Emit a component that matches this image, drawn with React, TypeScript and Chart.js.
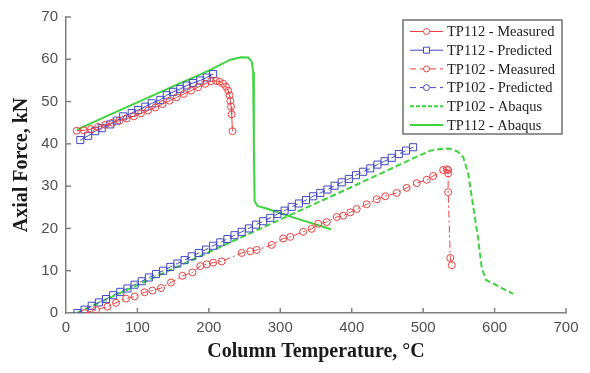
import React, { useEffect, useRef } from "react";
import { Chart, registerables } from "chart.js";

Chart.register(...registerables);

// ---- tick values ----
const xTickValues = [0, 100, 200, 300, 400, 500, 600, 700];
const yTickValues = [0, 10, 20, 30, 40, 50, 60, 70];

// ---- TP112 - Measured ----
const tp112MeasT = [15, 25, 35, 45, 55, 65, 75, 85, 95, 105, 115, 125, 135, 145, 155, 165, 175, 185, 195, 203, 210, 215, 220, 224, 227, 229, 230, 231, 232, 233];
const tp112MeasF = [43.1, 43.2, 43.5, 44.0, 44.5, 45.0, 45.5, 46.0, 46.5, 47.2, 47.9, 48.6, 49.4, 50.2, 51.0, 51.8, 52.6, 53.4, 54.2, 54.8, 54.9, 54.7, 54.2, 53.5, 52.6, 51.5, 50.2, 48.8, 47.0, 43.0];

// ---- TP112 - Predicted ----
const tp112PredT = [20, 31, 41, 50, 62, 71, 80, 92, 101, 111, 120, 132, 141, 150, 160, 169, 178, 188, 197, 206];
const tp112PredF = [40.9, 41.9, 43.0, 43.7, 44.6, 45.5, 46.5, 47.3, 48.0, 48.8, 49.6, 50.4, 51.5, 52.3, 53.0, 53.8, 54.4, 55.0, 55.7, 56.5];

// ---- TP102 - Measured ----
const tp102MeasT = [26, 42, 58, 70, 84, 96, 110, 121, 133, 147, 163, 177, 188, 197, 206, 218, 246, 258, 267, 288, 304, 314, 332, 344, 353, 365, 379, 388, 398, 407, 421, 435, 447, 463, 477, 491, 505, 514, 528, 533, 535, 535, 535, 538, 540];
const tp102MeasF = [0, 0.7, 1.5, 2.4, 3.4, 3.9, 4.9, 5.3, 5.9, 7.2, 8.8, 9.6, 11.1, 11.5, 11.9, 12.2, 14.2, 14.6, 14.9, 16.1, 17.6, 18.0, 19.2, 19.9, 21.1, 21.5, 22.7, 23.0, 23.8, 24.6, 25.7, 26.9, 27.6, 28.4, 29.6, 30.7, 31.5, 32.4, 33.8, 34.0, 33.8, 33.0, 28.6, 13.0, 11.3];

// ---- TP102 - Predicted ----
const tp102PredT = [16, 26, 36, 46, 56, 66, 76, 86, 96, 106, 116, 126, 136, 146, 156, 166, 176, 186, 196, 206, 216, 226, 236, 246, 256, 266, 276, 286, 296, 306, 316, 326, 336, 346, 356, 366, 376, 386, 396, 406, 416, 426, 436, 446, 456, 466, 476, 486];
const tp102PredF = [0, 0.8, 1.7, 2.5, 3.3, 4.2, 5.0, 5.8, 6.7, 7.5, 8.4, 9.2, 10.0, 10.9, 11.7, 12.5, 13.4, 14.2, 15.0, 15.9, 16.7, 17.5, 18.4, 19.2, 20.0, 20.9, 21.7, 22.5, 23.4, 24.2, 25.1, 25.9, 26.7, 27.6, 28.4, 29.2, 30.1, 30.9, 31.7, 32.6, 33.4, 34.2, 35.1, 35.9, 36.7, 37.6, 38.4, 39.2];

// ---- TP102 - Abaqus ----
const tp102AbaT = [15, 100, 200, 300, 400, 480, 510, 525, 537, 548, 556, 563, 570, 577, 582, 588, 600, 626];
const tp102AbaF = [0, 6.6, 14.4, 22.1, 29.8, 36.1, 38.4, 38.8, 38.9, 38.2, 36.9, 33.0, 25.3, 17.6, 10.7, 7.8, 6.8, 4.5];

// ---- TP112 - Abaqus ----
const tp112AbaT = [15, 60, 100, 150, 200, 230, 245, 255, 260, 262, 263, 264, 268, 283, 320, 371];
const tp112AbaF = [43.3, 46.8, 49.8, 53.6, 57.3, 59.9, 60.5, 60.4, 59.5, 57.0, 40.0, 26.5, 25.3, 24.6, 22.5, 19.8];

const seriesLabels = [
  "TP112 - Measured",
  "TP112 - Predicted",
  "TP102 - Measured",
  "TP102 - Predicted",
  "TP102 - Abaqus",
  "TP112 - Abaqus",
];

const RED = "#ee4040";
const BLUE = "#4048c4";
const GREEN = "#3ed43e";

const pts = (xs: number[], ys: number[]) => xs.map((x, i) => ({ x, y: ys[i] }));

type LegendItem = { label: string; color: string; dash: number[]; lw: number; marker: string | null };
const legendItems: LegendItem[] = [
  { label: seriesLabels[0], color: RED, dash: [], lw: 1, marker: "circle" },
  { label: seriesLabels[1], color: BLUE, dash: [], lw: 1, marker: "rect" },
  { label: seriesLabels[2], color: RED, dash: [6, 4], lw: 1, marker: "circle" },
  { label: seriesLabels[3], color: BLUE, dash: [6, 4], lw: 1, marker: "circle" },
  { label: seriesLabels[4], color: GREEN, dash: [4, 2], lw: 2, marker: null },
  { label: seriesLabels[5], color: GREEN, dash: [], lw: 2, marker: null },
];

const legendPlugin = {
  id: "boxLegend",
  afterDraw(chart: any) {
    const ctx = chart.ctx;
    ctx.save();
    const bx = 403, by = 20, bw = 159, bh = 114;
    ctx.fillStyle = "#ffffff";
    ctx.fillRect(bx, by, bw, bh);
    ctx.strokeStyle = "#707070";
    ctx.lineWidth = 1.5;
    ctx.strokeRect(bx, by, bw, bh);
    legendItems.forEach((it, i) => {
      const y = by + 11.5 + i * 18.7;
      ctx.setLineDash(it.dash);
      ctx.strokeStyle = it.color;
      ctx.lineWidth = it.lw;
      ctx.beginPath();
      ctx.moveTo(bx + 7, y);
      ctx.lineTo(bx + 40, y);
      ctx.stroke();
      ctx.setLineDash([]);
      if (it.marker) {
        const cx = bx + 23.5;
        ctx.fillStyle = "#ffffff";
        ctx.lineWidth = 1;
        ctx.beginPath();
        if (it.marker === "circle") ctx.arc(cx, y, 3, 0, Math.PI * 2);
        else ctx.rect(cx - 3, y - 3, 6, 6);
        ctx.fill();
        ctx.stroke();
      }
      ctx.fillStyle = "#222222";
      ctx.font = '14.5px "Liberation Serif"';
      ctx.textBaseline = "middle";
      ctx.textAlign = "left";
      ctx.fillText(it.label, bx + 44, y + 1);
    });
    ctx.restore();
  },
};

const inwardTicks = {
  id: "inwardTicks",
  afterDatasetsDraw(chart: any) {
    const { ctx, chartArea } = chart;
    const xs = chart.scales.x;
    const ys = chart.scales.y;
    ctx.save();
    ctx.strokeStyle = "#808080";
    ctx.lineWidth = 1.5;
    xTickValues.forEach((v) => {
      if (v === 0) return;
      const px = xs.getPixelForValue(v);
      ctx.beginPath();
      ctx.moveTo(px, chartArea.bottom);
      ctx.lineTo(px, chartArea.bottom - 5);
      ctx.stroke();
    });
    yTickValues.forEach((v) => {
      if (v === 0) return;
      const py = ys.getPixelForValue(v);
      ctx.beginPath();
      ctx.moveTo(chartArea.left, py);
      ctx.lineTo(chartArea.left + 5, py);
      ctx.stroke();
    });
    ctx.restore();
  },
};

export default function App() {
  const ref = useRef<HTMLCanvasElement | null>(null);
  useEffect(() => {
    if (!ref.current) return;
    const common = { showLine: true, pointBorderWidth: 1, pointBackgroundColor: "rgba(255,255,255,0)" };
    const chart = new Chart(ref.current, {
      type: "scatter",
      data: {
        datasets: [
          { ...common, label: seriesLabels[0], data: pts(tp112MeasT, tp112MeasF), borderColor: RED, pointBorderColor: RED, borderWidth: 1, pointStyle: "circle", pointRadius: 3.5 },
          { ...common, label: seriesLabels[1], data: pts(tp112PredT, tp112PredF), borderColor: BLUE, pointBorderColor: BLUE, borderWidth: 1, pointStyle: "rect", pointRadius: 5 },
          { ...common, label: seriesLabels[2], data: pts(tp102MeasT, tp102MeasF), borderColor: RED, pointBorderColor: RED, borderWidth: 1, borderDash: [7, 3, 2, 3], pointStyle: "circle", pointRadius: 3.5 },
          { ...common, label: seriesLabels[3], data: pts(tp102PredT, tp102PredF), borderColor: BLUE, pointBorderColor: BLUE, borderWidth: 1, borderDash: [6, 4], pointStyle: "rect", pointRadius: 5 },
          { ...common, label: seriesLabels[4], data: pts(tp102AbaT, tp102AbaF), borderColor: GREEN, borderWidth: 2, borderDash: [6, 3], pointRadius: 0 },
          { ...common, label: seriesLabels[5], data: pts(tp112AbaT, tp112AbaF), borderColor: GREEN, borderWidth: 2, pointRadius: 0 },
        ],
      },
      options: {
        animation: false,
        responsive: false,
        devicePixelRatio: 1,
        layout: { padding: { left: 0, top: 10, right: 24, bottom: 0 } },
        plugins: { legend: { display: false }, tooltip: { enabled: false } },
        scales: {
          x: {
            type: "linear",
            min: 0,
            max: 700,
            afterFit: (s: any) => { s.height = 60; },
            afterBuildTicks: (s: any) => { s.ticks = xTickValues.map((v) => ({ value: v })); },
            grid: { display: false, drawTicks: false },
            border: { display: true, color: "#808080", width: 1.5 },
            ticks: { padding: 6, color: "#505050", font: { family: '"Liberation Sans"', size: 15 }, maxRotation: 0 },
            title: { display: true, text: "Column Temperature, °C", color: "#1a1a1a", font: { family: '"Liberation Serif"', size: 20, weight: "bold" }, padding: { top: 0, bottom: 9 } },
          },
          y: {
            type: "linear",
            min: 0,
            max: 70,
            afterFit: (s: any) => { s.width = 66; },
            afterBuildTicks: (s: any) => { s.ticks = yTickValues.map((v) => ({ value: v })); },
            grid: { display: false, drawTicks: false },
            border: { display: true, color: "#808080", width: 1.5 },
            ticks: { padding: 8, color: "#505050", font: { family: '"Liberation Sans"', size: 15 } },
            title: { display: true, text: "Axial Force, kN", color: "#1a1a1a", font: { family: '"Liberation Serif"', size: 20, weight: "bold" }, padding: { top: 10, bottom: 0 } },
          },
        },
      },
      plugins: [inwardTicks, legendPlugin],
    } as any);
    return () => chart.destroy();
  }, []);
  return (
    <div style={{ position: "fixed", left: 0, top: 0, width: 590, height: 373, background: "#fff" }}>
      <canvas ref={ref} width={590} height={373} style={{ display: "block" }} />
    </div>
  );
}
